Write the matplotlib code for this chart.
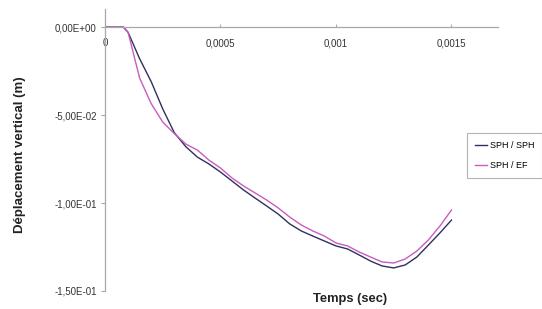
import matplotlib
matplotlib.use('Agg')
import matplotlib.pyplot as plt

plt.rcParams['font.family'] = ['Liberation Sans', 'DejaVu Sans']

# temps (sec)
temps = [0, 0.00005, 0.00008, 0.0001, 0.00015, 0.0002, 0.00025, 0.0003, 0.00035,
         0.0004, 0.00045, 0.0005, 0.00055, 0.0006, 0.00065, 0.0007, 0.00075,
         0.0008, 0.00085, 0.0009, 0.00095, 0.001, 0.00105, 0.0011, 0.00115,
         0.0012, 0.00125, 0.0013, 0.00135, 0.0014, 0.00145, 0.0015]

# deplacement vertical (m)
sph_sph = [0, 0, 0, -0.0030, -0.0180, -0.0310, -0.0465, -0.0600, -0.0680,
           -0.0739, -0.0778, -0.0824, -0.0875, -0.0926, -0.0972, -0.1017, -0.1063,
           -0.1119, -0.1159, -0.1188, -0.1216, -0.1244, -0.1261, -0.1295, -0.1330,
           -0.1358, -0.1369, -0.1352, -0.1307, -0.1239, -0.1170, -0.1097]
sph_ef = [0, 0, 0, -0.0030, -0.0290, -0.0435, -0.0540, -0.0605, -0.0665,
          -0.0699, -0.0756, -0.0801, -0.0858, -0.0903, -0.0943, -0.0983, -0.1028,
          -0.1080, -0.1125, -0.1159, -0.1188, -0.1227, -0.1244, -0.1278, -0.1307,
          -0.1335, -0.1341, -0.1318, -0.1273, -0.1210, -0.1131, -0.1040]

x_ticks = [0, 0.0005, 0.001, 0.0015]
x_labels = ['0', '0,0005', '0,001', '0,0015']
y_ticks = [0, -0.05, -0.1, -0.15]
y_labels = ['0,00E+00', '-5,00E-02', '-1,00E-01', '-1,50E-01']

fig = plt.figure(figsize=(5.42, 3.09), dpi=100)
ax = fig.add_axes([0.1937, 0.0583, 0.7245, 0.911])

ax.plot(temps, sph_sph, color='#30305f', lw=1.0, label='SPH / SPH')
ax.plot(temps, sph_ef, color='#c85cbf', lw=1.0, label='SPH / EF')

ax.set_xlim(0, 0.0017)
ax.set_ylim(-0.15, 0.01)

ax.spines['top'].set_visible(False)
ax.spines['right'].set_visible(False)
ax.spines['bottom'].set_position(('data', 0))
ax.spines['left'].set_position(('data', 0))
for s in ('bottom', 'left'):
    ax.spines[s].set_color('#a8a8a8')
    ax.spines[s].set_linewidth(0.9)

ax.set_xticks(x_ticks)
ax.set_xticklabels(x_labels)
ax.set_yticks(y_ticks)
ax.set_yticklabels(y_labels)
ax.tick_params(axis='x', direction='in', length=2.5, pad=8, labelsize=7,
               color='#a8a8a8', labelcolor='#333333')
ax.tick_params(axis='y', direction='out', length=3, pad=3, labelsize=7,
               color='#a8a8a8', labelcolor='#333333')

fig.text(20 / 542, 1 - 155 / 309, 'Déplacement vertical (m)', rotation=90,
         ha='center', va='center', fontsize=9.5, fontweight='bold', color='#222222')
fig.text(350 / 542, 1 - 299 / 309, 'Temps (sec)', ha='center', va='center',
         fontsize=9.3, fontweight='bold', color='#222222')

leg = fig.legend(loc='upper left', bbox_to_anchor=(467 / 542, 1 - 133 / 309),
                 fontsize=6.5, frameon=True, fancybox=False, handlelength=1.3,
                 handletextpad=0.3, borderpad=0.9, labelspacing=1.2,
                 borderaxespad=0)
leg.get_frame().set_edgecolor('#a0a0a0')
leg.get_frame().set_linewidth(0.8)

fig.savefig('out.png', dpi=100)
